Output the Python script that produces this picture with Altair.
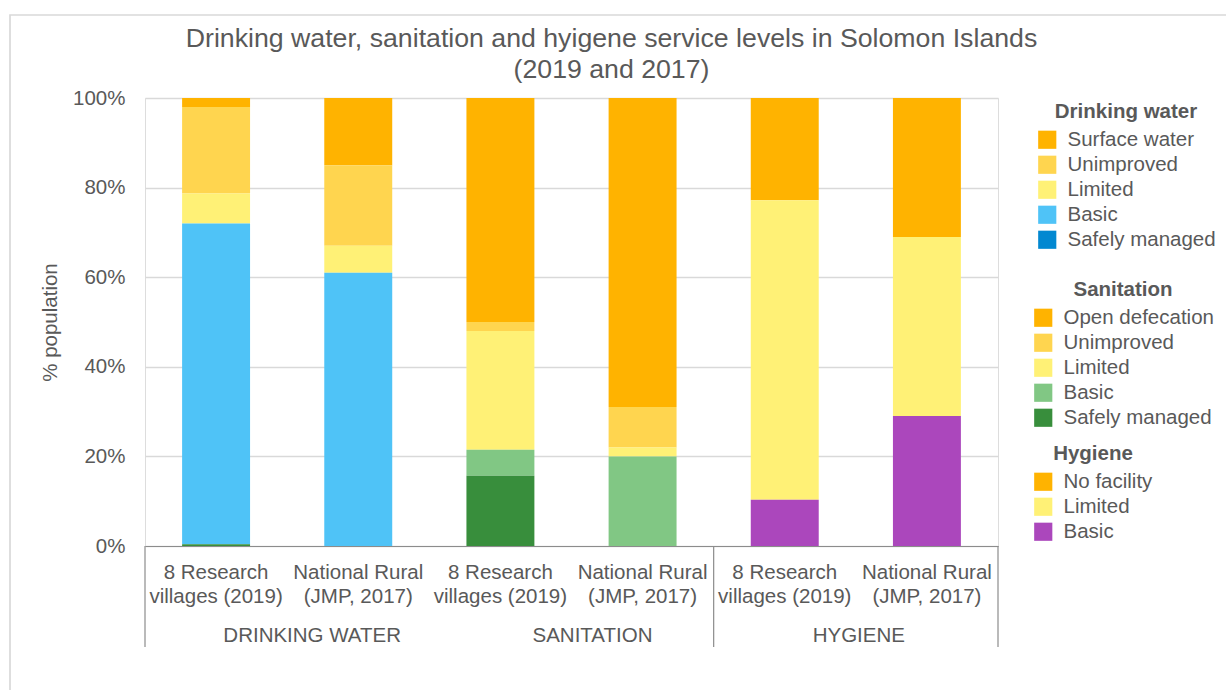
import altair as alt
import pandas as pd

FONT = "Liberation Sans"
TEXT = "#595959"

# ---- data -------------------------------------------------------------
groups = ["Drinking water", "Sanitation", "Hygiene"]
group_captions = ["DRINKING WATER", "SANITATION", "HYGIENE"]
sample_lines = [["8 Research", "villages (2019)"], ["National Rural", "(JMP, 2017)"]]

water_levels = ["Surface water", "Unimproved", "Limited", "Basic", "Safely managed"]
water_research = [2.0, 19.3, 6.7, 71.6, 0.4]
water_national = [15.0, 18.0, 6.0, 61.0, 0.0]
water_colors = ["#FFB300", "#FFD54F", "#FFF176", "#4FC3F7", "#0288D1"]

san_levels = ["Open defecation", "Unimproved", "Limited", "Basic", "Safely managed"]
san_research = [50.0, 2.0, 26.5, 5.8, 15.7]
san_national = [69.0, 9.0, 2.0, 20.0, 0.0]
san_colors = ["#FFB300", "#FFD54F", "#FFF176", "#81C784", "#388E3C"]

hyg_levels = ["No facility", "Limited", "Basic"]
hyg_research = [22.8, 66.9, 10.3]
hyg_national = [31.0, 40.0, 29.0]
hyg_colors = ["#FFB300", "#FFF176", "#AB47BC"]

series = {
    "Drinking water": (water_levels, [water_research, water_national], water_colors),
    "Sanitation": (san_levels, [san_research, san_national], san_colors),
    "Hygiene": (hyg_levels, [hyg_research, hyg_national], hyg_colors),
}

# one x category per bar: "<GROUP>|<line 1>|<line 2>"
bar_keys = []
rows = []
for g, caption in zip(groups, group_captions):
    levels, values, _ = series[g]
    for lines, vals in zip(sample_lines, values):
        key = "|".join([caption] + lines)
        bar_keys.append(key)
        for i, (lvl, v) in enumerate(zip(levels, vals)):
            if v > 0:
                rows.append({"bar": key, "group": g, "level": lvl,
                             "value": v, "order": len(levels) - i})
df = pd.DataFrame(rows)

# ---- layout -----------------------------------------------------------
W, H = 853, 448

x_axis = alt.Axis(title=None, labelExpr="slice(split(datum.label, '|'), 1)",
                  labelAngle=0, labelFont=FONT, labelFontSize=20.5, labelColor=TEXT,
                  labelLineHeight=24.3, labelPadding=16, labelLimit=300,
                  labelOverlap=False, ticks=False, tickSize=0,
                  domainColor="#8c8c8c", domainWidth=1.2, grid=False, zindex=1)
x_scale = alt.Scale(domain=bar_keys, paddingInner=0, paddingOuter=0)
y_axis = alt.Axis(title="% population", values=[0, 20, 40, 60, 80, 100],
                  labelExpr="datum.value + '%'", labelFont=FONT, labelFontSize=20.5,
                  labelColor=TEXT, labelPadding=20, domain=False, ticks=False,
                  gridColor="#d9d9d9", gridWidth=1.3,
                  titleFont=FONT, titleFontSize=20.5, titleFontWeight="normal",
                  titleColor=TEXT, titlePadding=12)
y_enc = alt.Y("value:Q", stack="zero", scale=alt.Scale(domain=[0, 100]), axis=y_axis)


def legend_for(title, lx, ly):
    return alt.Legend(title=title, orient="none", legendX=lx, legendY=ly,
                      direction="vertical", padding=0,
                      titleFont=FONT, titleFontSize=20.5, titleFontWeight="bold",
                      titleColor=TEXT, titleAnchor="middle", titlePadding=7,
                      labelFont=FONT, labelFontSize=20.5, labelColor=TEXT,
                      labelLimit=300, labelOffset=10,
                      symbolType="square", symbolSize=330, symbolStrokeWidth=0,
                      rowPadding=4)


legend_pos = {"Drinking water": (892, 4), "Sanitation": (888, 182), "Hygiene": (888, 346)}

bar_layers = []
for g in groups:
    levels, _, colors = series[g]
    color = alt.Color("level:N", scale=alt.Scale(domain=levels, range=colors),
                      legend=legend_for(g, *legend_pos[g]))
    if g == "Drinking water":
        # the thin safely-managed sliver is filled with the sanitation green
        color = alt.when(alt.datum.level == "Safely managed").then(
            alt.value("#388E3C")).otherwise(color)
    layer = alt.Chart(df).transform_filter(alt.datum.group == g).mark_bar(
        width=alt.RelativeBandSize(0.478)
    ).encode(
        x=alt.X("bar:N", scale=x_scale, axis=x_axis),
        y=y_enc,
        color=color,
        order=alt.Order("order:Q"),
    )
    bar_layers.append(layer)

# category separators below the axis
sep_left = pd.DataFrame({"bar": [bar_keys[0], bar_keys[4]]})
sep_right = pd.DataFrame({"bar": [bar_keys[5]]})
seps = []
for frame, pos in ((sep_left, 0), (sep_right, 1)):
    seps.append(alt.Chart(frame).mark_rule(color="#8c8c8c", strokeWidth=1.2).encode(
        x=alt.X("bar:N", bandPosition=pos, scale=x_scale, axis=x_axis),
        y=alt.value(H), y2=alt.value(H + 101),
    ))

# group captions under the bar labels
caption_dx = [25, 21, 3]
captions = []
for k, (cap, dx) in enumerate(zip(group_captions, caption_dx)):
    frame = pd.DataFrame({"bar": [bar_keys[2 * k]], "caption": [cap]})
    captions.append(alt.Chart(frame).mark_text(
        font=FONT, fontSize=20.5, color=TEXT, baseline="alphabetic", align="center", dx=dx
    ).encode(
        x=alt.X("bar:N", bandPosition=1, scale=x_scale, axis=x_axis),
        y=alt.value(H + 96),
        text="caption:N",
    ))

# light outer frame
outer = alt.Chart(pd.DataFrame({"f": [0]})).mark_rect(
    filled=False, stroke="#d9d9d9", strokeWidth=1.7
).encode(x=alt.value(-135), y=alt.value(-83), x2=alt.value(1300), y2=alt.value(800))

chart = alt.layer(outer, *bar_layers, *seps, *captions).resolve_scale(
    color="independent"
).properties(
    width=W, height=H,
    autosize=alt.AutoSizeParams(type="none"),
    padding={"left": 145, "top": 98, "right": 228, "bottom": 144},
    title=alt.Title(
        text=["Drinking water, sanitation and hyigene service levels in Solomon Islands",
              "(2019 and 2017)"],
        font=FONT, fontSize=26.7, fontWeight="normal", color=TEXT,
        anchor="middle", dx=40, offset=-70, lineHeight=31,
    ),
).configure_view(stroke=None).configure(background="white")

chart.save("out.html", embed_options={"renderer": "svg", "actions": False})
